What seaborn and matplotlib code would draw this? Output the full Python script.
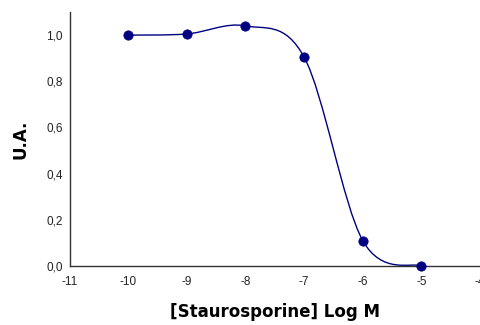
import matplotlib
matplotlib.use("Agg")
import matplotlib.pyplot as plt
from matplotlib.path import Path
from matplotlib.patches import PathPatch
from matplotlib.ticker import FuncFormatter
import seaborn as sns
import pandas as pd

log_conc = [-10, -9, -8, -7, -6, -5]
response = [1.0, 1.005, 1.04, 0.905, 0.11, 0.0]
x_ticks = [-11, -10, -9, -8, -7, -6, -5, -4]
y_ticks = [0.0, 0.2, 0.4, 0.6, 0.8, 1.0]

df = pd.DataFrame({"x": log_conc, "y": response})

sns.set_style("white")
plt.rcParams["font.family"] = ["Liberation Sans", "DejaVu Sans"]

fig = plt.figure(figsize=(4.81, 3.25), dpi=100)
ax = fig.add_axes([0.1445, 0.1815, 0.8535, 0.7815])

# smoothed line (Excel-like Catmull-Rom Bezier through data points)
pts = list(zip(log_conc, response))
verts = [pts[0]]
codes = [Path.MOVETO]
n = len(pts)
for i in range(n - 1):
    p0 = pts[i - 1] if i > 0 else pts[i]
    p1 = pts[i]
    p2 = pts[i + 1]
    p3 = pts[i + 2] if i + 2 < n else pts[i + 1]
    c1 = (p1[0] + (p2[0] - p0[0]) / 6, p1[1] + (p2[1] - p0[1]) / 6)
    c2 = (p2[0] - (p3[0] - p1[0]) / 6, p2[1] - (p3[1] - p1[1]) / 6)
    verts += [c1, c2, p2]
    codes += [Path.CURVE4] * 3
ax.add_patch(PathPatch(Path(verts, codes), facecolor="none", edgecolor="#000080", lw=1.0, zorder=2))

sns.scatterplot(data=df, x="x", y="y", ax=ax, color="#000080", s=45, edgecolor="#000080", zorder=3, clip_on=False)

ax.set_xlim(-11, -4)
ax.set_ylim(0, 1.1)
ax.set_xticks(x_ticks)
ax.set_yticks(y_ticks)
ax.yaxis.set_major_formatter(FuncFormatter(lambda v, p: f"{v:.1f}".replace(".", ",")))
ax.xaxis.set_major_formatter(FuncFormatter(lambda v, p: f"{int(v)}"))
ax.tick_params(axis="both", direction="out", length=3, width=0.8, labelsize=8.5, colors="#333333", labelcolor="#222222", pad=2)
ax.tick_params(axis="x", pad=4)
for s in ["top", "right"]:
    ax.spines[s].set_visible(False)
for s in ["left", "bottom"]:
    ax.spines[s].set_color("#333333")
    ax.spines[s].set_linewidth(1.0)

ax.set_xlabel("[Staurosporine] Log M", fontsize=12, fontweight="bold", labelpad=11, color="black", family=["DejaVu Sans"])
ax.set_ylabel("U.A.", fontsize=12, fontweight="bold", labelpad=12, color="black", family=["DejaVu Sans"])

fig.savefig("out.png", dpi=100)
